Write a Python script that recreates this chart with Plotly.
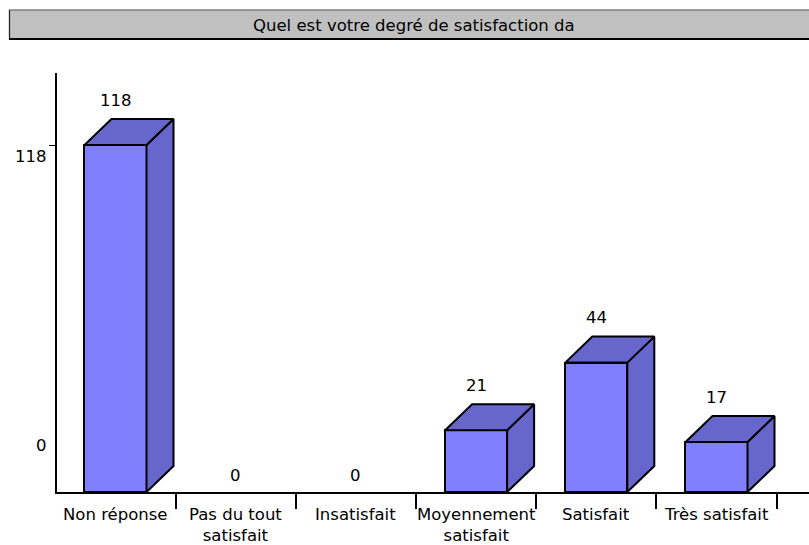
import plotly.graph_objects as go

# ---- data ----
title_text = "Quel est votre degré de satisfaction da"
categories = ["Non réponse", "Pas du tout<br>satisfait", "Insatisfait",
              "Moyennement<br>satisfait", "Satisfait", "Très satisfait"]
values = [118, 0, 0, 21, 44, 17]
y_tick_vals = [0, 118]
y_tick_text = ["0", "118"]

# ---- style / geometry ----
FONT = "DejaVu Sans"
FS = 16.5
FRONT = "#8080FF"
SIDE = "#6666CC"
W = 0.516          # bar front width (category units)
DX = 0.2246        # depth offset in x (category units)
DY = 8.84          # depth offset in y (value units)
L, R, T, B = 57, 0, 73, 53
WIDTH, HEIGHT = 809, 545
PW = WIDTH - L - R
PH = HEIGHT - T - B

xs = list(range(len(categories)))

fig = go.Figure()

# top and side faces (computed from values)
top_x, top_y, side_x, side_y = [], [], [], []
for x, v in zip(xs, values):
    if v <= 0:
        continue
    top_x += [x - W / 2, x - W / 2 + DX, x + W / 2 + DX, x + W / 2, x - W / 2, None]
    top_y += [v, v + DY, v + DY, v, v, None]
    side_x += [x + W / 2, x + W / 2 + DX, x + W / 2 + DX, x + W / 2, x + W / 2, None]
    side_y += [0, DY, v + DY, v, 0, None]

fig.add_trace(go.Scatter(x=side_x, y=side_y, mode="lines", fill="toself",
                         fillcolor=SIDE, line=dict(color="black", width=2),
                         hoverinfo="skip", showlegend=False))
fig.add_trace(go.Scatter(x=top_x, y=top_y, mode="lines", fill="toself",
                         fillcolor=SIDE, line=dict(color="black", width=2),
                         hoverinfo="skip", showlegend=False))

# front faces
nz = [(x, v) for x, v in zip(xs, values) if v > 0]
fig.add_trace(go.Bar(x=[p[0] for p in nz], y=[p[1] for p in nz], width=W,
                     marker=dict(color=FRONT, line=dict(color="black", width=2)),
                     showlegend=False, hoverinfo="skip"))

annotations = []
# value labels
for x, v in zip(xs, values):
    annotations.append(dict(x=x, y=v, xref="x", yref="y", text=str(v),
                            showarrow=False, yanchor="middle",
                            yshift=45 if v > 0 else 17,
                            font=dict(family=FONT, size=FS, color="black")))
# category labels
for x, c in zip(xs, categories):
    annotations.append(dict(x=x, y=0, xref="x", yref="y", text=c,
                            showarrow=False, yanchor="top", yshift=-11,
                            font=dict(family=FONT, size=FS, color="black")))
# y tick labels
for v, t in zip(y_tick_vals, y_tick_text):
    annotations.append(dict(x=0, y=v, xref="paper", yref="y", text=t,
                            showarrow=False, xanchor="right", yanchor="middle",
                            xshift=-8, yshift=47 if v == 0 else -11,
                            font=dict(family=FONT, size=FS, color="black")))


def px2x(px):
    return (px - L) / PW


def py2y(py):
    return 1 + (T - py) / PH


# title
annotations.append(dict(x=px2x(414), y=py2y(25), xref="paper", yref="paper",
                        text=title_text, showarrow=False, xanchor="center",
                        yanchor="middle",
                        font=dict(family=FONT, size=FS, color="black")))

shapes = [
    dict(type="rect", xref="paper", yref="paper", x0=px2x(9.5), x1=px2x(812),
         y0=py2y(39), y1=py2y(10), fillcolor="#C0C0C0",
         line=dict(color="#808080", width=1.5), layer="below"),
    dict(type="line", xref="paper", yref="paper", x0=px2x(9), x1=px2x(812),
         y0=py2y(39), y1=py2y(39), line=dict(color="black", width=2)),
    dict(type="line", xref="paper", yref="paper", x0=px2x(9.5), x1=px2x(9.5),
         y0=py2y(39), y1=py2y(10), line=dict(color="#202020", width=1)),
]

x_lo = (L - 115.5) / 120.2
x_hi = (WIDTH - R - 115.5) / 120.2

fig.update_layout(
    width=WIDTH, height=HEIGHT,
    margin=dict(l=L, r=R, t=T, b=B, pad=0),
    paper_bgcolor="white", plot_bgcolor="white",
    annotations=annotations, shapes=shapes,
    bargap=0, showlegend=False,
    xaxis=dict(range=[x_lo, x_hi], showgrid=False, zeroline=False,
               showline=True, linecolor="black", linewidth=2,
               tickvals=[x + 0.5 for x in xs], ticks="outside", ticklen=15,
               tickwidth=1.5, tickcolor="black", showticklabels=False,
               fixedrange=True),
    yaxis=dict(range=[0, PH / 2.9407], showgrid=False, zeroline=False,
               showline=True, linecolor="black", linewidth=2,
               tickvals=[118], ticks="outside", ticklen=6, tickwidth=1,
               tickcolor="black", showticklabels=False, fixedrange=True),
)

fig.write_html("out.html", config={"displayModeBar": False},
               post_script="document.body.style.margin='0';document.body.style.padding='0';")
